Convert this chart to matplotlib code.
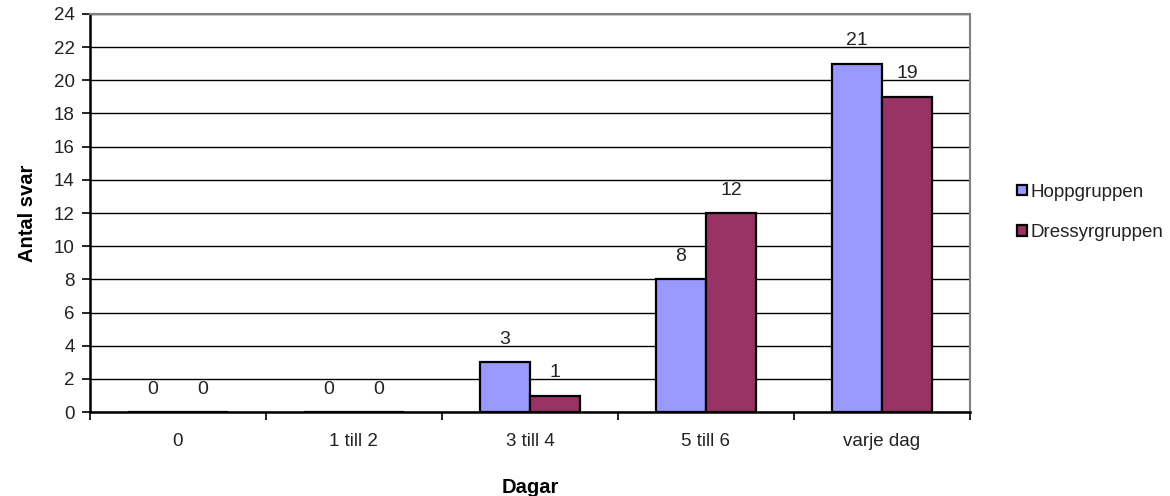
import matplotlib
matplotlib.use("Agg")
import matplotlib.pyplot as plt
import numpy as np
from matplotlib.patches import Patch

plt.rcParams["font.family"] = ["Liberation Sans", "DejaVu Sans"]

CATEGORIES = ["0", "1 till 2", "3 till 4", "5 till 6", "varje dag"]
HOPP = [0, 0, 3, 8, 21]
DRESSYR = [0, 0, 1, 12, 19]
SERIES_NAMES = ["Hoppgruppen", "Dressyrgruppen"]

HOPP_COLOR = "#9999FF"
DRESSYR_COLOR = "#993366"
BORDER_GRAY = "#808080"
TEXT_COLOR = "#222222"

fig = plt.figure(figsize=(11.7, 4.96), dpi=100)
ax = fig.add_axes([0.0769, 0.169, 0.752, 0.803])

x = np.arange(len(CATEGORIES))
width = 0.285

bars_h = ax.bar(x - width / 2, HOPP, width, color=HOPP_COLOR, edgecolor="black",
                linewidth=1.6, zorder=3)
bars_d = ax.bar(x + width / 2, DRESSYR, width, color=DRESSYR_COLOR, edgecolor="black",
                linewidth=1.6, zorder=3)

# value labels sit a fixed distance above each bar
for bars, vals in ((bars_h, HOPP), (bars_d, DRESSYR)):
    for bar, v in zip(bars, vals):
        ax.text(bar.get_x() + bar.get_width() / 2, v + 1.38, str(v),
                ha="center", va="center", fontsize=14, color=TEXT_COLOR, zorder=4)

ax.set_xlim(-0.5, len(CATEGORIES) - 0.5)
ax.set_ylim(0, 24)
ax.set_yticks(np.arange(0, 25, 2))
ax.yaxis.grid(True, color="black", linewidth=1.0, zorder=0)
ax.set_axisbelow(True)

ax.set_xticks(x)
ax.set_xticklabels(CATEGORIES, fontsize=13.5, color=TEXT_COLOR)
ax.set_xticks(np.arange(-0.5, len(CATEGORIES)), minor=True)
ax.tick_params(axis="x", which="major", length=0, pad=15)
ax.tick_params(axis="x", which="minor", length=6, width=1.2, direction="out")
ax.tick_params(axis="y", length=6, width=1.2, direction="out", labelsize=13.5,
               labelcolor=TEXT_COLOR, pad=5)

ax.spines["left"].set_linewidth(1.8)
ax.spines["bottom"].set_linewidth(1.8)
ax.spines["top"].set_color(BORDER_GRAY)
ax.spines["right"].set_color(BORDER_GRAY)
ax.spines["top"].set_linewidth(1.5)
ax.spines["right"].set_linewidth(1.5)

ax.set_ylabel("Antal svar", fontsize=14.5, fontweight="bold", labelpad=12)
ax.set_xlabel("Dagar", fontsize=14.5, fontweight="bold", labelpad=20)

handles = [Patch(facecolor=HOPP_COLOR, edgecolor="black", linewidth=1.6),
           Patch(facecolor=DRESSYR_COLOR, edgecolor="black", linewidth=1.6)]
fig.legend(handles, SERIES_NAMES, loc="center left", bbox_to_anchor=(0.855, 0.572),
           frameon=False, fontsize=13.5, handlelength=0.5, handleheight=0.5,
           handletextpad=0.2, labelspacing=1.25, labelcolor=TEXT_COLOR)

fig.savefig("out.png", dpi=100)
